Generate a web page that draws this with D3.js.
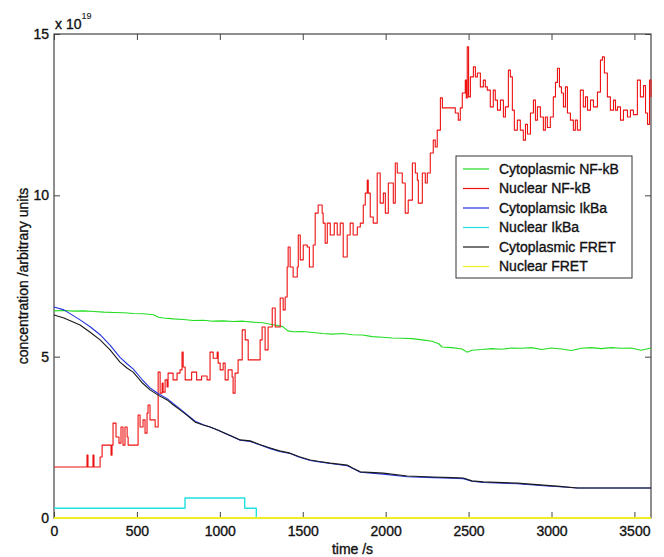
<!DOCTYPE html>
<html>
<head>
<meta charset="utf-8">
<script src="https://cdn.jsdelivr.net/npm/d3@7"></script>
<style>
  body { margin: 0; background: #fff; }
  text { font-family: "Liberation Sans", Arial, sans-serif; fill: #111; stroke: #111; stroke-width: 0.35px; }
</style>
</head>
<body>
<svg id="chart" width="664" height="557"></svg>
<script>
// Time axis (s) and concentration axis (x 10^19, arbitrary units)
const xTicks = [0, 500, 1000, 1500, 2000, 2500, 3000, 3500];
const yTicks = [0, 5, 10, 15];

const seriesNames = ["Cytoplasmic NF-kB", "Nuclear NF-kB", "Cytoplamsic IkBa",
                     "Nuclear IkBa", "Cytoplasmic FRET", "Nuclear FRET"];

// [time s, concentration x1e19]
const cytoNFkB = [[0,6.42],[60,6.43],[120,6.41],[180,6.42],[240,6.40],[300,6.38],[360,6.37],[420,6.36],
  [480,6.34],[540,6.33],[600,6.30],[630,6.22],[660,6.20],[720,6.17],[780,6.15],[840,6.12],[900,6.13],
  [960,6.10],[1020,6.11],[1080,6.09],[1140,6.10],[1200,6.07],[1260,6.05],[1320,5.99],[1380,5.93],
  [1410,5.80],[1440,5.77],[1500,5.78],[1560,5.75],[1620,5.72],[1680,5.70],[1740,5.72],[1800,5.68],
  [1860,5.67],[1920,5.62],[1980,5.60],[2040,5.58],[2100,5.57],[2160,5.56],[2220,5.52],[2280,5.48],
  [2320,5.40],[2340,5.30],[2400,5.28],[2460,5.24],[2490,5.14],[2520,5.20],[2580,5.22],[2640,5.25],
  [2700,5.23],[2760,5.27],[2820,5.26],[2880,5.28],[2940,5.22],[3000,5.27],[3060,5.24],[3120,5.19],
  [3180,5.26],[3240,5.28],[3300,5.25],[3360,5.28],[3420,5.26],[3480,5.27],[3540,5.20],[3600,5.27]];

const nucNFkB = [[0,1.58],[199,1.95],[205,1.58],[235,1.95],[241,1.58],[278,1.89],[290,2.26],[344,1.95],
  [350,2.26],[356,2.94],[374,2.51],[392,2.32],[404,2.82],[416,2.26],[428,2.82],[441,2.51],[447,2.26],
  [507,3.19],[519,2.82],[537,3.04],[549,2.63],[561,3.25],[567,3.50],[579,3.04],[610,2.82],[628,4.52],
  [640,3.87],[652,4.18],[658,3.90],[670,4.28],[682,4.06],[688,4.49],[718,4.28],[742,4.49],[760,4.59],
  [772,5.14],[779,4.68],[791,4.28],[830,4.52],[860,4.28],[890,4.40],[923,4.28],[941,5.14],[960,4.95],
  [984,5.14],[990,4.80],[1002,4.59],[1020,4.80],[1032,4.28],[1050,4.59],[1074,4.37],[1080,3.87],
  [1092,4.49],[1110,4.90],[1135,5.83],[1153,5.52],[1171,4.90],[1243,5.52],[1255,5.92],[1273,5.21],
  [1291,5.92],[1316,6.51],[1334,5.92],[1364,6.82],[1382,6.45],[1394,6.85],[1406,7.78],[1412,8.40],
  [1424,7.78],[1442,7.47],[1467,7.78],[1473,8.77],[1485,8.00],[1503,8.46],[1527,8.40],[1540,7.78],
  [1563,8.46],[1575,9.45],[1593,9.70],[1617,9.45],[1623,9.14],[1635,8.52],[1648,9.14],[1666,8.77],
  [1690,9.14],[1708,8.77],[1726,9.14],[1744,8.09],[1768,8.77],[1786,9.14],[1804,8.77],[1829,9.02],
  [1847,9.14],[1865,9.70],[1877,10.07],[1889,10.47],[1895,10.07],[1907,9.33],[1925,9.14],[1949,10.69],
  [1967,9.76],[1986,10.07],[1998,9.45],[2016,10.38],[2046,9.76],[2058,11.00],[2070,10.69],[2100,10.38],
  [2118,9.45],[2136,9.85],[2161,11.00],[2179,10.69],[2191,10.47],[2197,9.76],[2221,10.69],[2239,10.38],
  [2251,10.69],[2269,11.31],[2287,11.71],[2299,11.50],[2311,12.02],[2330,13.02],[2342,12.71],
  [2420,12.55],[2438,12.33],[2450,12.71],[2462,13.17],[2480,13.57],[2486,13.02],[2492,14.60],
  [2500,13.05],[2511,13.67],[2529,13.98],[2541,13.67],[2553,13.79],[2571,13.36],[2589,13.57],
  [2601,13.36],[2613,13.26],[2631,12.74],[2649,13.26],[2661,12.95],[2674,12.64],[2692,12.95],
  [2710,12.43],[2722,12.74],[2740,13.88],[2752,13.67],[2764,12.64],[2776,12.02],[2794,12.33],
  [2812,12.02],[2830,11.71],[2843,12.20],[2855,11.90],[2873,12.55],[2891,12.95],[2903,12.33],
  [2915,12.74],[2933,12.43],[2951,12.02],[2963,12.43],[2975,12.10],[2993,12.43],[3011,13.05],
  [3024,13.50],[3036,13.94],[3048,13.36],[3060,13.17],[3072,12.74],[3084,13.36],[3096,12.55],
  [3114,12.33],[3132,12.02],[3144,12.33],[3156,12.02],[3174,13.26],[3192,12.74],[3205,13.05],
  [3217,12.64],[3235,12.95],[3253,12.74],[3277,13.20],[3295,14.19],[3307,14.29],[3319,13.79],
  [3337,13.05],[3355,12.64],[3374,12.95],[3386,12.64],[3398,12.74],[3416,12.33],[3434,12.64],
  [3458,12.43],[3476,12.64],[3494,12.50],[3518,13.57],[3536,13.05],[3555,13.40],[3567,12.55],
  [3579,12.20],[3591,13.57],[3600,13.05]];

const cytoIkBa = [[0,6.54],[60,6.45],[157,6.14],[220,5.92],[278,5.68],[338,5.36],[398,4.98],[440,4.78],
  [477,4.62],[530,4.30],[579,4.03],[630,3.85],[682,3.70],[720,3.54],[760,3.38],[810,3.17],[851,3.00],
  [900,2.89],[941,2.82],[990,2.72],[1032,2.62],[1080,2.51],[1123,2.41],[1183,2.37],[1240,2.27],
  [1304,2.15],[1360,2.06],[1424,2.00],[1480,1.88],[1545,1.78],[1600,1.74],[1666,1.69],[1768,1.62],
  [1800,1.54],[1847,1.42],[1986,1.36],[2130,1.28],[2287,1.25],[2400,1.23],[2468,1.22],[2520,1.14],
  [2589,1.10],[2794,1.06],[2951,1.00],[3050,0.97],[3156,0.93],[3600,0.93]];

const nucIkBa = [[0,0.30],[790,0.62],[1150,0.30],[1220,0],[3600,0]];

const cytoFRET = [[0,6.29],[60,6.20],[157,5.98],[220,5.75],[278,5.52],[338,5.21],[398,4.83],[440,4.65],
  [477,4.52],[530,4.20],[579,3.97],[630,3.80],[682,3.66],[720,3.50],[760,3.35],[810,3.15],[851,2.97],
  [900,2.88],[941,2.82],[990,2.72],[1032,2.63],[1080,2.52],[1123,2.42],[1183,2.39],[1240,2.28],
  [1304,2.17],[1360,2.08],[1424,2.01],[1480,1.90],[1545,1.80],[1600,1.75],[1666,1.70],[1768,1.64],
  [1800,1.55],[1847,1.43],[1986,1.39],[2130,1.30],[2287,1.27],[2400,1.25],[2468,1.24],[2520,1.15],
  [2589,1.12],[2794,1.08],[2951,1.02],[3050,0.98],[3156,0.93],[3600,0.93]];

const nucFRET = [[0,0],[3600,0]];

const colors = ["#22dd22", "#ee1111", "#2233dd", "#22e0e0", "#1a1a1a", "#eeee22"];

const svg = d3.select("#chart");
const x = d3.scaleLinear().domain([0, 3600]).range([54, 651]);
const y = d3.scaleLinear().domain([0, 15]).range([518, 34]);

// Inward ticks on all four sides
const tickLen = 6;
function styleAxis(g) {
  g.select(".domain").remove();
  g.selectAll(".tick line").attr("stroke", "#444");
  g.selectAll(".tick text").attr("font-size", 14).attr("fill", "#111");
}
svg.append("g").attr("transform", `translate(0,${y(0)})`)
  .call(d3.axisBottom(x).tickValues(xTicks).tickFormat(d3.format("d"))
    .tickSizeInner(-tickLen).tickSizeOuter(0).tickPadding(8))
  .call(styleAxis);
svg.append("g").attr("transform", `translate(0,${y(15)})`)
  .call(d3.axisTop(x).tickValues(xTicks).tickSizeInner(-tickLen).tickSizeOuter(0).tickFormat(""))
  .call(styleAxis);
svg.append("g").attr("transform", `translate(${x(0)},0)`)
  .call(d3.axisLeft(y).tickValues(yTicks).tickFormat(d3.format("d"))
    .tickSizeInner(-tickLen).tickSizeOuter(0).tickPadding(5))
  .call(styleAxis);
svg.append("g").attr("transform", `translate(${x(3600)},0)`)
  .call(d3.axisRight(y).tickValues(yTicks).tickSizeInner(-tickLen).tickSizeOuter(0).tickFormat(""))
  .call(styleAxis);

// Plot frame
svg.append("rect")
  .attr("x", x(0)).attr("y", y(15))
  .attr("width", x(3600) - x(0)).attr("height", y(0) - y(15))
  .attr("fill", "none").attr("stroke", "#444").attr("stroke-width", 1.2);

// Series
const stepLine = d3.line().x(d => x(d[0])).y(d => y(d[1])).curve(d3.curveStepAfter);
const smoothLine = d3.line().x(d => x(d[0])).y(d => y(d[1]));
const series = [
  { data: cytoNFkB, gen: smoothLine, w: 1.1 },
  { data: nucNFkB, gen: stepLine, w: 1.1 },
  { data: cytoIkBa, gen: smoothLine, w: 1.1 },
  { data: nucIkBa, gen: stepLine, w: 1.4 },
  { data: cytoFRET, gen: smoothLine, w: 1.1 },
  { data: nucFRET, gen: smoothLine, w: 2 }
];
series.forEach((s, i) => {
  svg.append("path")
    .attr("d", s.gen(s.data))
    .attr("fill", "none")
    .attr("stroke", colors[i])
    .attr("stroke-width", s.w)
    .attr("stroke-linejoin", "round");
});

// Scale factor and axis titles
const expo = svg.append("text").attr("x", 55).attr("y", 29).attr("font-size", 14);
expo.append("tspan").text("x 10");
expo.append("tspan").attr("font-size", 9).attr("dy", -10).style("stroke-width", "0.1px").text("19");

svg.append("text")
  .attr("x", (x(0) + x(3600)) / 2).attr("y", 554)
  .attr("text-anchor", "middle").attr("font-size", 14)
  .text("time /s");

svg.append("text")
  .attr("transform", `translate(28,${(y(0) + y(15)) / 2}) rotate(-90)`)
  .attr("text-anchor", "middle").attr("font-size", 14)
  .text("concentration /arbitrary units");

// Legend
const legend = svg.append("g");
legend.append("rect")
  .attr("x", 456).attr("y", 156).attr("width", 176).attr("height", 122)
  .attr("fill", "#fff").attr("stroke", "#333").attr("stroke-width", 1);
seriesNames.forEach((name, i) => {
  const ly = 169 + i * 19.5;
  legend.append("line")
    .attr("x1", 463).attr("x2", 489).attr("y1", ly).attr("y2", ly)
    .attr("stroke", colors[i]).attr("stroke-width", 1.2);
  legend.append("text")
    .attr("x", 499).attr("y", ly).attr("dy", "0.35em")
    .attr("font-size", 14)
    .text(name);
});
</script>
</body>
</html>
